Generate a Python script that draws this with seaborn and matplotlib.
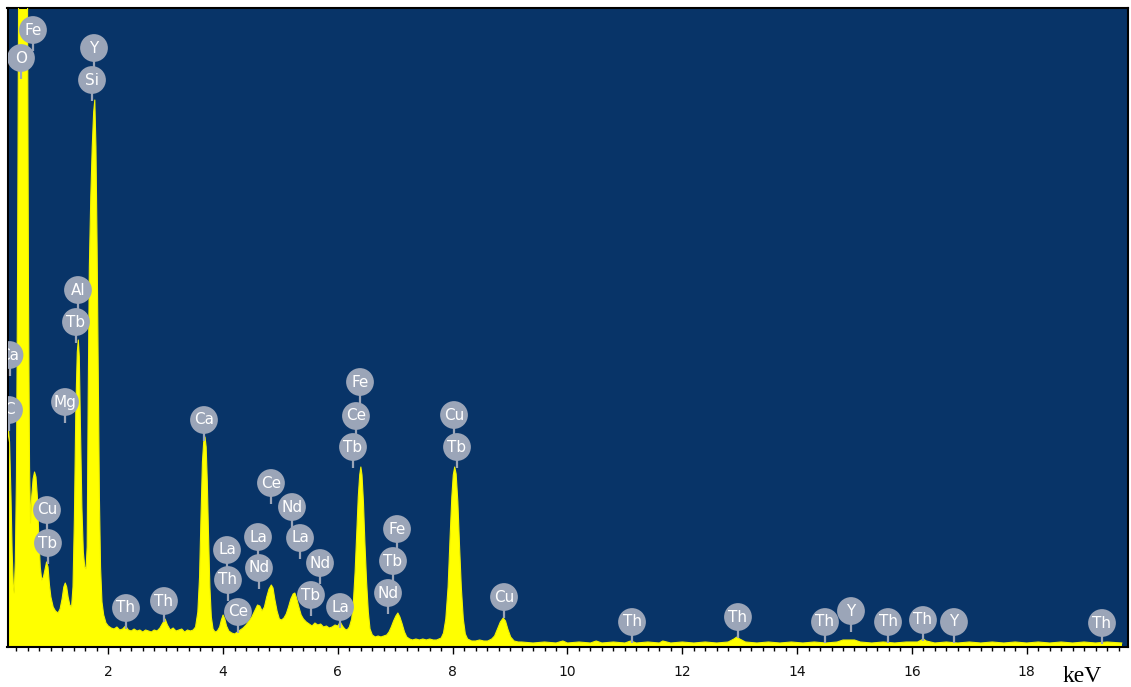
import matplotlib
matplotlib.use("Agg")
import matplotlib.pyplot as plt
from matplotlib.ticker import MultipleLocator
import pandas as pd
import seaborn as sns

# ---- spectrum (energy in keV, counts) ----
energy_kev = [
    0.244, 0.262, 0.280, 0.305, 0.325, 0.345, 0.360, 0.380, 0.400, 0.420, 0.440, 0.460,
    0.570, 0.590, 0.610, 0.628, 0.645, 0.665, 0.690, 0.715, 0.740, 0.765, 0.790, 0.815,
    0.840, 0.870, 0.900, 0.925, 0.950, 0.975, 1.000, 1.040, 1.080, 1.124, 1.160, 1.195,
    1.225, 1.250, 1.275, 1.300, 1.330, 1.360, 1.385, 1.410, 1.435, 1.460, 1.478, 1.495,
    1.515, 1.540, 1.565, 1.590, 1.612, 1.632, 1.650, 1.670, 1.695, 1.720, 1.745, 1.765,
    1.785, 1.805, 1.825, 1.845, 1.865, 1.890, 1.920, 1.960, 2.000,
    2.05, 2.10, 2.15, 2.20, 2.25, 2.30, 2.35, 2.40, 2.45, 2.50, 2.55, 2.60, 2.65, 2.70,
    2.75, 2.80, 2.85, 2.90, 2.95, 2.99, 3.03, 3.08, 3.13, 3.18, 3.23, 3.28, 3.33, 3.38,
    3.43, 3.48, 3.52,
    3.560, 3.590, 3.615, 3.640, 3.662, 3.685, 3.705, 3.725, 3.745, 3.770, 3.795, 3.825,
    3.86, 3.90, 3.94, 3.97, 4.00, 4.03, 4.06, 4.10, 4.15, 4.20, 4.25, 4.30, 4.35, 4.40,
    4.45, 4.50, 4.55, 4.60, 4.64, 4.68, 4.72, 4.76, 4.80, 4.84, 4.87, 4.90, 4.94, 4.98,
    5.02, 5.06, 5.10, 5.14, 5.18, 5.22, 5.25, 5.28, 5.32, 5.36, 5.40, 5.45, 5.50, 5.55,
    5.60, 5.65, 5.70, 5.75, 5.80, 5.85, 5.90, 5.95, 6.00, 6.04, 6.08, 6.12, 6.16, 6.20,
    6.240, 6.270, 6.300, 6.330, 6.355, 6.380, 6.400, 6.420, 6.445, 6.470, 6.500, 6.530,
    6.560, 6.600, 6.65, 6.70, 6.75, 6.80, 6.85, 6.89, 6.93, 6.97, 7.01, 7.045, 7.08,
    7.12, 7.16, 7.20, 7.25, 7.30, 7.36, 7.42, 7.48, 7.54, 7.60, 7.66, 7.72, 7.76,
    7.80, 7.84, 7.88, 7.92, 7.955, 7.985, 8.010, 8.035, 8.060, 8.090, 8.120, 8.150,
    8.185, 8.220, 8.26, 8.33, 8.40, 8.47, 8.54, 8.61, 8.68, 8.73, 8.78, 8.83, 8.88,
    8.92, 8.96, 9.01, 9.07, 9.14,
    9.2, 9.4, 9.6, 9.8, 9.92, 10.0, 10.2, 10.4, 10.5, 10.6, 10.8, 11.0, 11.1, 11.2,
    11.4, 11.6, 11.66, 11.8, 12.0, 12.2, 12.4, 12.6, 12.8, 12.9, 12.95, 13.0, 13.1,
    13.3, 13.5, 13.7, 13.9, 14.1, 14.3, 14.5, 14.7, 14.8, 14.9, 15.0, 15.1, 15.3, 15.5,
    15.7, 15.9, 16.1, 16.2, 16.25, 16.4, 16.6, 16.8, 17.0, 17.2, 17.4, 17.6, 17.8,
    18.0, 18.2, 18.4, 18.6, 18.8, 19.0, 19.2, 19.4, 19.66,
]
counts = [
    205, 217, 205, 150, 95, 62, 54, 85, 170, 380, 700, 1000,
    1000, 700, 350, 180, 124, 150, 168, 175, 170, 150, 110, 80,
    67, 70, 78, 85, 80, 62, 50, 40, 36, 34, 38, 48,
    60, 64, 60, 50, 42, 40, 60, 130, 240, 295, 307, 290,
    220, 140, 95, 80, 78, 100, 250, 380, 450, 500, 535, 547,
    500, 400, 270, 150, 80, 45, 32, 24, 21,
    19, 18, 20, 17, 18, 21, 17, 16, 18, 16, 17, 15, 17, 16,
    15, 17, 16, 19, 24, 28, 22, 17, 19, 16, 17, 18, 15, 17,
    16, 17, 20,
    35, 70, 130, 185, 205, 210, 200, 165, 115, 60, 30, 18,
    15, 16, 20, 27, 32, 28, 21, 16, 14, 13, 15, 17, 19, 22,
    26, 30, 36, 42, 41, 36, 40, 50, 58, 62, 59, 48, 36, 28,
    27, 29, 33, 40, 48, 53, 54, 49, 40, 32, 28, 25, 23, 21,
    24, 22, 23, 20, 21, 19, 20, 22, 21, 25, 21, 18, 17, 20,
    28, 45, 75, 115, 150, 172, 180, 172, 145, 105, 65, 35,
    18, 12, 10, 11, 10, 11, 12, 15, 20, 26, 31, 34, 30,
    23, 15, 10, 8, 7, 8, 7, 8, 7, 8, 7, 7, 8,
    9, 14, 28, 60, 110, 150, 172, 180, 173, 145, 100, 60,
    28, 13, 8, 6, 6, 7, 6, 6, 8, 11, 18, 25, 29,
    26, 18, 10, 6, 5,
    5, 4, 5, 4, 6, 4, 5, 4, 6, 4, 5, 4, 6, 4,
    5, 4, 6, 4, 5, 4, 5, 4, 5, 8, 10, 8, 5,
    4, 5, 4, 5, 4, 5, 4, 5, 7, 7, 7, 5, 4, 5,
    4, 5, 5, 8, 6, 4, 5, 4, 5, 4, 5, 4, 5,
    4, 5, 4, 5, 4, 5, 4, 5, 4,
]

# ---- element marker bubbles ----
label_text = ["Fe", "O", "Y", "Si", "Al", "Tb", "Ca", "C", "Mg", "Cu", "Tb",
              "Th", "Th", "Ca", "La", "Th", "Ce", "La", "Nd", "Ce", "Nd", "La",
              "Nd", "Tb", "La", "Fe", "Ce", "Tb", "Fe", "Tb", "Nd", "Cu", "Tb",
              "Cu", "Th", "Th", "Th", "Y", "Th", "Th", "Y", "Th"]
label_kev = [0.688, 0.479, 1.751, 1.716, 1.472, 1.437, 0.279, 0.270, 1.246, 0.932, 0.949,
             2.308, 2.970, 3.667, 4.068, 4.085, 4.259, 4.608, 4.625, 4.834, 5.200, 5.340,
             5.688, 5.531, 6.037, 6.385, 6.315, 6.263, 7.030, 6.960, 6.873, 8.023, 8.075,
             8.894, 11.124, 12.970, 14.486, 14.939, 15.584, 16.193, 16.733, 19.312]
label_height = [617, 589, 599, 567, 357, 325, 292, 237, 245, 137, 104,
                39, 46, 227, 97, 67, 35, 110, 79, 164, 140, 109,
                84, 52, 40, 265, 231, 200, 118, 86, 54, 232, 200,
                50, 25, 30, 25, 36, 25, 27, 25, 24]

BG = "#083468"
YELLOW = "#FFFF00"
BUBBLE = "#9BA5B8"

sns.set_theme(style="white")
plt.rcParams["font.family"] = ["DejaVu Sans"]

fig = plt.figure(figsize=(11.31, 6.87), dpi=100)
fig.patch.set_facecolor("white")
ax = fig.add_axes([7.5 / 1131, 40 / 687, (1128 - 7.5) / 1131, (647 - 8) / 687])
ax.set_facecolor(BG)

spec = pd.DataFrame({"keV": energy_kev, "counts": counts})
ax.fill_between(spec["keV"], spec["counts"], 0, color=YELLOW, lw=0, zorder=2)
sns.lineplot(data=spec, x="keV", y="counts", ax=ax, color="#F2F200", lw=0.8,
             estimator=None, zorder=3)

labels = pd.DataFrame({"el": label_text, "keV": label_kev, "h": label_height})
ax.vlines(labels["keV"], labels["h"] - 21, labels["h"], color=BUBBLE, lw=1.6, zorder=4)
sns.scatterplot(data=labels, x="keV", y="h", ax=ax, s=400, color=BUBBLE,
                edgecolor="none", zorder=5, legend=False)
for t, x, y in zip(label_text, label_kev, label_height):
    ax.text(x, y, t, color="white", fontsize=11, ha="center", va="center",
            zorder=6, clip_on=True)

ax.set_xlim(0.244, 19.765)
ax.set_ylim(0, 639)
ax.xaxis.set_major_locator(MultipleLocator(2))
ax.xaxis.set_minor_locator(MultipleLocator(0.2))
ax.set_yticks([])
ax.set_xlabel("")
ax.set_ylabel("")
ax.tick_params(axis="x", which="major", direction="out", bottom=True, length=5,
               width=1, color="black", labelsize=10, pad=8, labelcolor="#111111")
ax.tick_params(axis="x", which="minor", direction="out", bottom=True, length=3,
               width=1, color="black")
for s in ax.spines.values():
    s.set_visible(True)
    s.set_color("black")
    s.set_linewidth(1.5)

fig.text(1063 / 1131, 1 - 682 / 687, "keV", family="Liberation Serif", fontsize=17,
         ha="left", va="baseline", color="black")

fig.savefig("out.png", dpi=100)
